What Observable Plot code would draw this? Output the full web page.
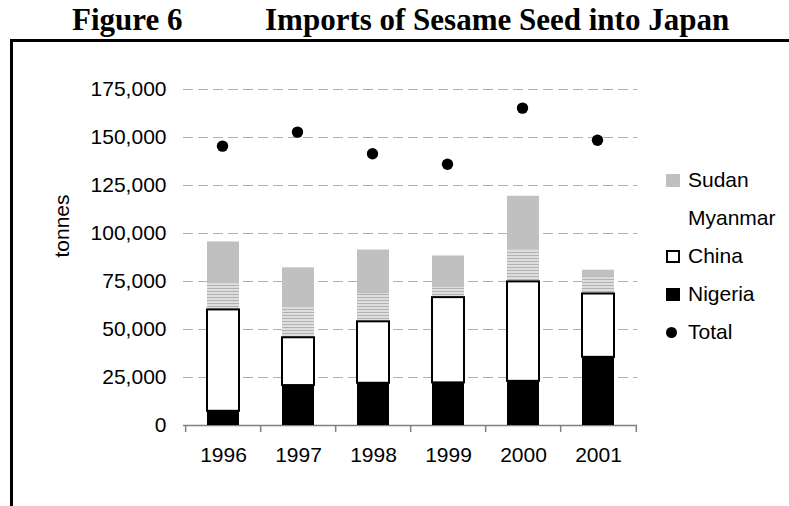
<!DOCTYPE html>
<html>
<head>
<meta charset="utf-8">
<script src="https://cdn.jsdelivr.net/npm/d3@7"></script>
<script src="https://cdn.jsdelivr.net/npm/@observablehq/plot@0.6"></script>
<style>
  html, body { margin: 0; padding: 0; background: #fff; }
  #wrap { position: relative; width: 789px; height: 506px; overflow: hidden; font-family: Arial, "Liberation Sans", sans-serif; }
  .title { position: absolute; top: 4px; font-family: "Liberation Serif", "Times New Roman", serif; font-weight: bold; font-size: 31px; line-height: 31px; white-space: nowrap; color: #000; }
  #frame { position: absolute; left: 10px; top: 39px; width: 800px; height: 500px; border-top: 3px solid #000; border-left: 3px solid #000; box-sizing: border-box; }
  #chart { position: absolute; left: 0; top: 0; }
  .lg-text { position: absolute; left: 688px; height: 24px; line-height: 24px; font-size: 21px; color: #000; white-space: nowrap; }
  .lg-sw { position: absolute; box-sizing: border-box; }
</style>
</head>
<body>
<div id="wrap">
  <div class="title" style="left:72px">Figure 6</div>
  <div class="title" style="left:265px">Imports of Sesame Seed into Japan</div>
  <div id="frame"></div>
  <div id="chart"></div>
  <div id="legend"></div>
</div>
<script>
// ---- data (tonnes) ----
const years   = ["1996", "1997", "1998", "1999", "2000", "2001"];
const nigeria = [7400, 20800, 22000, 22200, 23000, 35500];
const china   = [52800, 24900, 32000, 44400, 51800, 33000];
const myanmar = [13500, 15600, 14500, 5200, 16600, 8300];
const sudan   = [21900, 20800, 22900, 16500, 28000, 4100];
const total   = [145500, 152800, 141500, 136100, 165300, 148600];
const yTicks  = [0, 25000, 50000, 75000, 100000, 125000, 150000, 175000];
const legendLabels = ["Sudan", "Myanmar", "China", "Nigeria", "Total"];

// stacked table
const rows = years.map((year, i) => {
  const n = nigeria[i], c = n + china[i], m = c + myanmar[i], s = m + sudan[i];
  return {year, n0: 0, n1: n, c1: c, m1: m, s1: s, total: total[i]};
});

const W = 789, H = 506, mL = 183, mR = 152, mT = 89, mB = 81;
const pInner = 0.577, pOuter = pInner / 2;
const step = (W - mL - mR) / (years.length - pInner + 2 * pOuter);

const plot = Plot.plot({
  width: W, height: H,
  marginTop: mT, marginBottom: mB, marginLeft: mL, marginRight: mR,
  style: {fontFamily: "Arial, 'Liberation Sans', sans-serif", fontSize: "21px", background: "transparent", overflow: "visible", color: "#000"},
  x: {domain: years, paddingInner: pInner, paddingOuter: pOuter, tickSize: 0, tickPadding: 22, label: null},
  y: {domain: [0, 175000], ticks: yTicks, tickSize: 0, tickPadding: 17, tickFormat: d3.format(","), label: null},
  marks: [
    Plot.ruleY(yTicks.filter(d => d > 0), {stroke: "#b0b0b0", strokeWidth: 1, strokeDasharray: "10,5"}),
    Plot.ruleY([0], {stroke: "#808080", strokeWidth: 1.5}),
    Plot.ruleX(years, {x: d => d, y1: 0, y2: 0, insetBottom: -7, dx: -step / 2, stroke: "#808080", strokeWidth: 1.5}),
    Plot.ruleX(years.slice(-1), {x: d => d, y1: 0, y2: 0, insetBottom: -7, dx: step / 2, stroke: "#808080", strokeWidth: 1.5}),
    Plot.barY(rows, {x: "year", y1: "n0", y2: "n1", fill: "#000"}),
    Plot.barY(rows, {x: "year", y1: "c1", y2: "m1", fill: "url(#myanmarPat)"}),
    Plot.barY(rows, {x: "year", y1: "m1", y2: "s1", fill: "#c0c0c0"}),
    Plot.barY(rows, {x: "year", y1: "n1", y2: "c1", fill: "#fff", stroke: "#000", strokeWidth: 2}),
    Plot.dot(rows, {x: "year", y: "total", r: 5.7, fill: "#000", dx: -1}),
    Plot.text(["tonnes"], {frameAnchor: "left", dx: -121, rotate: -90, fill: "#000"})
  ]
});

d3.select(plot).insert("defs", ":first-child").html(
  '<pattern id="myanmarPat" width="4" height="3" patternUnits="userSpaceOnUse">' +
  '<rect width="4" height="3" fill="#dedede"></rect>' +
  '<rect width="4" height="1" fill="#b2b2b2"></rect></pattern>'
);
document.getElementById("chart").appendChild(plot);

// ---- legend ----
const legend = document.getElementById("legend");
const centers = [180, 218, 256, 294, 332];
legendLabels.forEach((lab, i) => {
  const t = document.createElement("div");
  t.className = "lg-text";
  t.style.top = (centers[i] - 12) + "px";
  t.textContent = lab;
  legend.appendChild(t);
});
function sw(css) {
  const d = document.createElement("div");
  d.className = "lg-sw";
  Object.assign(d.style, css);
  legend.appendChild(d);
}
sw({left: "666px", top: (centers[0] - 6) + "px", width: "14px", height: "13px", background: "#c0c0c0"});
sw({left: "666px", top: (centers[2] - 6) + "px", width: "14px", height: "13px", background: "#fff", border: "2px solid #000"});
sw({left: "666px", top: (centers[3] - 6) + "px", width: "14px", height: "13px", background: "#000"});
sw({left: "666px", top: (centers[4] - 5.5) + "px", width: "11px", height: "11px", background: "#000", borderRadius: "50%"});
</script>
</body>
</html>
